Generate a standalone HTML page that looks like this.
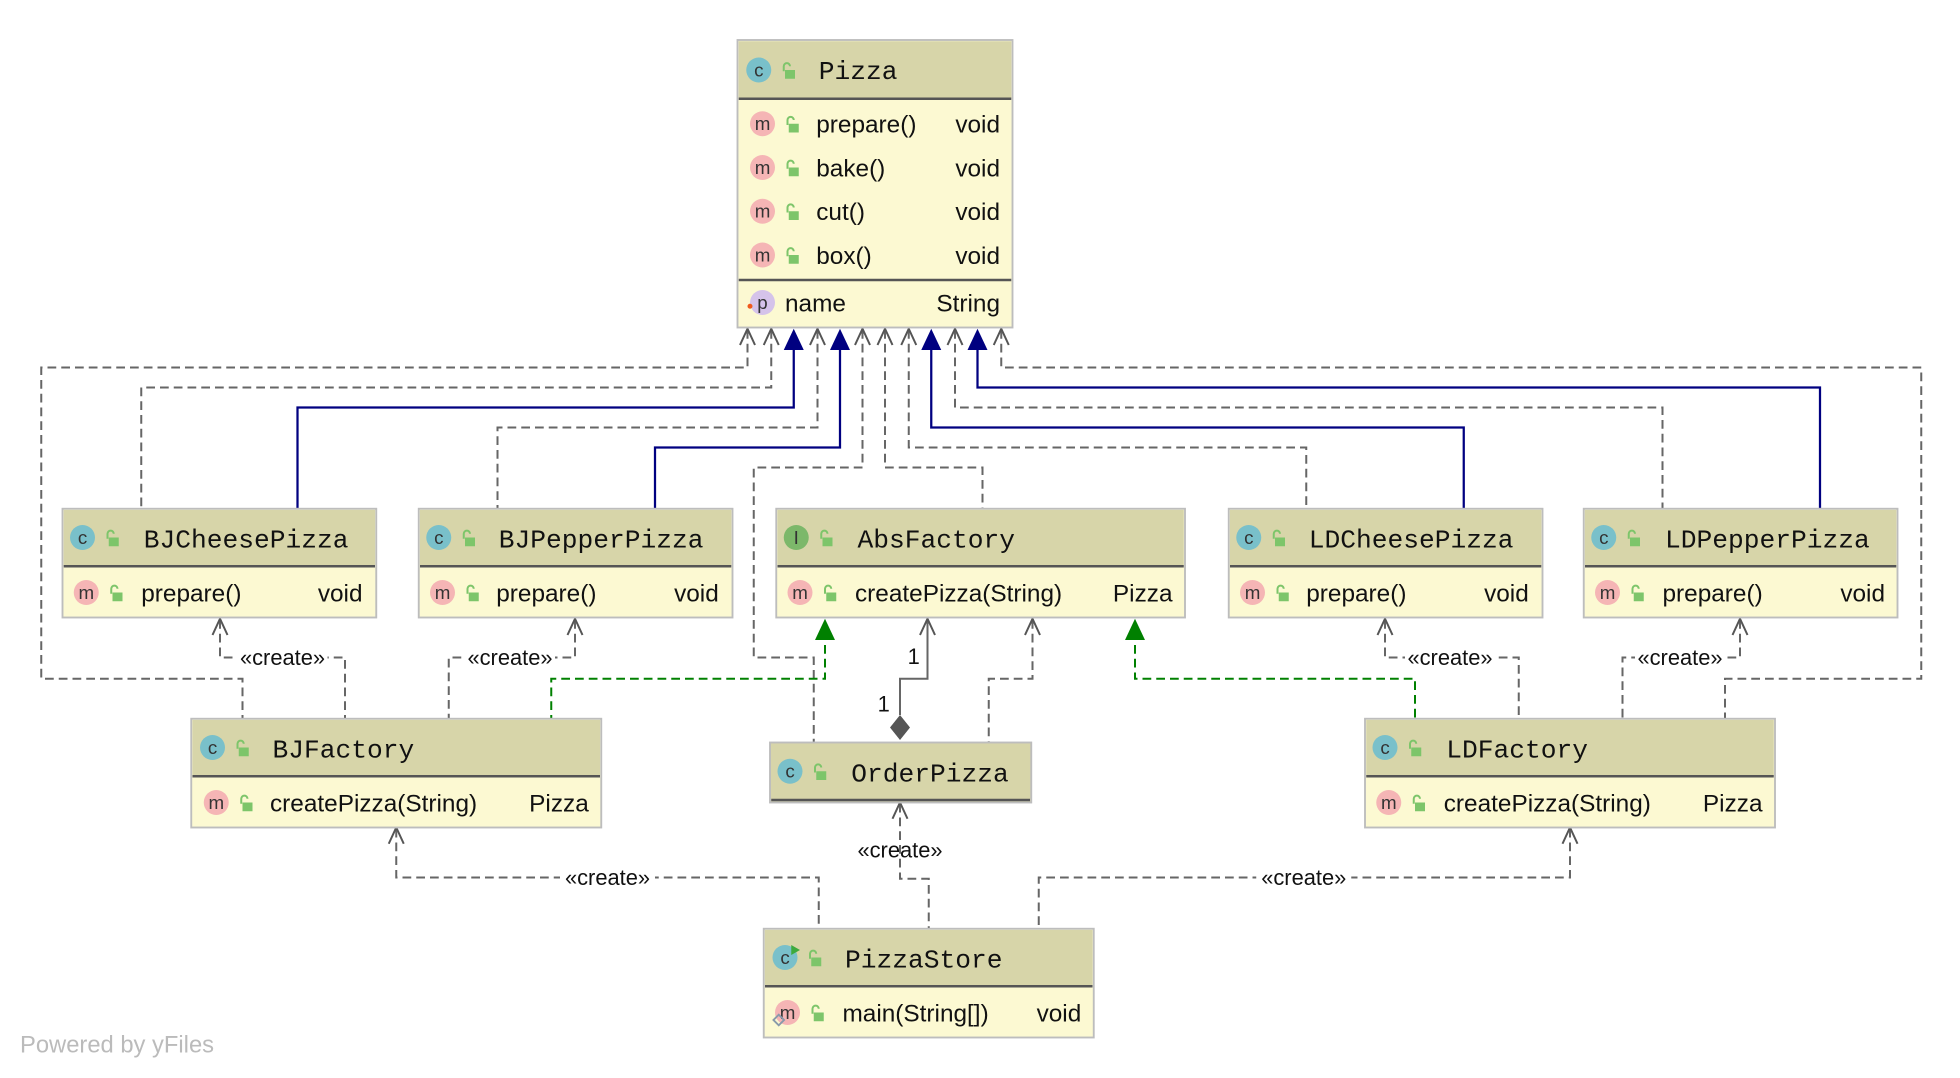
<!DOCTYPE html>
<html><head><meta charset="utf-8"><style>
html,body{margin:0;padding:0;background:#fff;}
svg{display:block;}
.h{font-family:"Liberation Mono",monospace;font-size:21px;fill:#111;}
.r{font-family:"Liberation Sans",sans-serif;font-size:19.5px;fill:#111;}
.t{font-family:"Liberation Sans",sans-serif;font-size:19.5px;fill:#111;text-anchor:end;}
.ic{font-family:"Liberation Sans",sans-serif;font-size:15px;fill:#333;text-anchor:middle;}
.lb{font-family:"Liberation Sans",sans-serif;font-size:17.5px;fill:#111;text-anchor:middle;}
.d{fill:none;stroke:#666;stroke-width:1.6;stroke-dasharray:7,4;}
.s{fill:none;stroke:#000080;stroke-width:1.8;}
.g{fill:none;stroke:#008000;stroke-width:1.6;stroke-dasharray:7,4;}
.oa{fill:none;stroke:#555;stroke-width:1.6;}
</style></head><body>
<svg width="1960" height="1078" viewBox="0 0 1568 862.4" preserveAspectRatio="none" xmlns="http://www.w3.org/2000/svg">
<defs>
<g id="lk"><rect x="-3" y="-2" width="8" height="7" fill="#7dc56a"/><path d="M-4 -1 V-5 a2.5 2.5 0 0 1 5 0" fill="none" stroke="#7dc56a" stroke-width="1.6"/></g>
</defs>

<path class="d" d="M598 264 V294 H33 V543 H194 V575"/>
<path class="d" d="M617 264 V310 H113 V407"/>
<path class="s" d="M635 270 V326 H238 V407"/>
<path class="d" d="M654 264 V342 H398 V407"/>
<path class="s" d="M672 270 V358 H524 V407"/>
<path class="d" d="M690 264 V374 H603 V526 H651 V594"/>
<path class="d" d="M708 264 V374 H786 V407"/>
<path class="d" d="M727 264 V358 H1045 V407"/>
<path class="s" d="M745 270 V342 H1171 V407"/>
<path class="d" d="M764 264 V326 H1330 V407"/>
<path class="s" d="M782 270 V310 H1456 V407"/>
<path class="d" d="M801 264 V294 H1537 V543 H1380 V575"/>
<g class="oa">
<path d="M592 276 L598 263 L604 276"/><path d="M611 276 L617 263 L623 276"/>
<path d="M648 276 L654 263 L660 276"/><path d="M684 276 L690 263 L696 276"/>
<path d="M702 276 L708 263 L714 276"/><path d="M721 276 L727 263 L733 276"/>
<path d="M758 276 L764 263 L770 276"/><path d="M795 276 L801 263 L807 276"/>
</g>
<g fill="#000080">
<polygon points="635,263 627,280 643,280"/><polygon points="672,263 664,280 680,280"/>
<polygon points="745,263 737,280 753,280"/><polygon points="782,263 774,280 790,280"/>
</g>

<path class="d" d="M176 496 V526 H276 V575"/>
<path class="d" d="M460 496 V526 H359 V575"/>
<path class="g" d="M660 505 V543 H441 V575"/>
<path fill="none" stroke="#666" stroke-width="1.6" d="M742 496 V543 H720 V572"/>
<polygon points="720,572 728,582 720,592 712,582" fill="#555"/>
<path class="d" d="M826 496 V543 H791 V594"/>
<path class="g" d="M908 505 V543 H1132 V575"/>
<path class="d" d="M1108 496 V526 H1215 V575"/>
<path class="d" d="M1392 496 V526 H1298 V575"/>
<path class="d" d="M317 663 V702 H655 V743"/>
<path class="d" d="M720 643 V703 H743 V743"/>
<path class="d" d="M1256 663 V702 H831 V743"/>
<g class="oa">
<path d="M170 508 L176 495 L182 508"/><path d="M454 508 L460 495 L466 508"/>
<path d="M736 508 L742 495 L748 508"/><path d="M820 508 L826 495 L832 508"/>
<path d="M1102 508 L1108 495 L1114 508"/><path d="M1386 508 L1392 495 L1398 508"/>
<path d="M311 675 L317 662 L323 675"/><path d="M714 655 L720 642 L726 655"/>
<path d="M1250 675 L1256 662 L1262 675"/>
</g>
<g fill="#008000">
<polygon points="660,495 652,512 668,512"/><polygon points="908,495 900,512 916,512"/>
</g>
<g>
<rect x="190" y="517" width="72" height="18" fill="#fff"/><text class="lb" x="226" y="532">«create»</text>
<rect x="372" y="517" width="72" height="18" fill="#fff"/><text class="lb" x="408" y="532">«create»</text>
<rect x="1124" y="517" width="72" height="18" fill="#fff"/><text class="lb" x="1160" y="532">«create»</text>
<rect x="1308" y="517" width="72" height="18" fill="#fff"/><text class="lb" x="1344" y="532">«create»</text>
<rect x="448" y="693" width="76" height="18" fill="#fff"/><text class="lb" x="486" y="708">«create»</text>
<text class="lb" x="720" y="686">«create»</text>
<rect x="1005" y="693" width="76" height="18" fill="#fff"/><text class="lb" x="1043" y="708">«create»</text>
<text class="lb" x="731" y="531">1</text>
<text class="lb" x="707" y="569">1</text>
</g>

<rect x="590" y="32" width="220" height="230" fill="#fcf9d2" stroke="#bdbdbd" stroke-width="1.5"/>
<rect x="591" y="33" width="218" height="46" fill="#d7d5a9"/>
<line x1="591" y1="79" x2="809" y2="79" stroke="#555" stroke-width="2"/>
<line x1="591" y1="224" x2="809" y2="224" stroke="#555" stroke-width="2"/>
<circle cx="607" cy="56" r="10" fill="#79c0ca"/><text class="ic" x="607" y="61">c</text>
<use href="#lk" x="631" y="58"/><text class="h" x="655" y="63">Pizza</text>
<g>
<circle cx="610" cy="99" r="10" fill="#f5b5b5"/><text class="ic" x="610" y="104">m</text><use href="#lk" x="634" y="101"/><text class="r" x="653" y="106">prepare()</text><text class="t" x="800" y="106">void</text>
<circle cx="610" cy="134" r="10" fill="#f5b5b5"/><text class="ic" x="610" y="139">m</text><use href="#lk" x="634" y="136"/><text class="r" x="653" y="141">bake()</text><text class="t" x="800" y="141">void</text>
<circle cx="610" cy="169" r="10" fill="#f5b5b5"/><text class="ic" x="610" y="174">m</text><use href="#lk" x="634" y="171"/><text class="r" x="653" y="176">cut()</text><text class="t" x="800" y="176">void</text>
<circle cx="610" cy="204" r="10" fill="#f5b5b5"/><text class="ic" x="610" y="209">m</text><use href="#lk" x="634" y="206"/><text class="r" x="653" y="211">box()</text><text class="t" x="800" y="211">void</text>
<circle cx="610" cy="242" r="10" fill="#d5c3ea"/><text class="ic" x="610" y="247">p</text><circle cx="600" cy="245" r="2" fill="#f05a1c"/><text class="r" x="628" y="249">name</text><text class="t" x="800" y="249">String</text>
</g>

<g>
<rect x="50" y="407" width="251" height="87" fill="#fcf9d2" stroke="#bdbdbd" stroke-width="1.5"/>
<rect x="51" y="408" width="249" height="45" fill="#d7d5a9"/><line x1="51" y1="453" x2="300" y2="453" stroke="#555" stroke-width="2"/>
<circle cx="66" cy="430" r="10" fill="#79c0ca"/><text class="ic" x="66" y="435">c</text><use href="#lk" x="90" y="432"/><text class="h" x="115" y="438">BJCheesePizza</text>
<circle cx="69" cy="474" r="10" fill="#f5b5b5"/><text class="ic" x="69" y="479">m</text><use href="#lk" x="93" y="476"/><text class="r" x="113" y="481">prepare()</text><text class="t" x="290" y="481">void</text>
</g>
<g>
<rect x="335" y="407" width="251" height="87" fill="#fcf9d2" stroke="#bdbdbd" stroke-width="1.5"/>
<rect x="336" y="408" width="249" height="45" fill="#d7d5a9"/><line x1="336" y1="453" x2="585" y2="453" stroke="#555" stroke-width="2"/>
<circle cx="351" cy="430" r="10" fill="#79c0ca"/><text class="ic" x="351" y="435">c</text><use href="#lk" x="375" y="432"/><text class="h" x="399" y="438">BJPepperPizza</text>
<circle cx="354" cy="474" r="10" fill="#f5b5b5"/><text class="ic" x="354" y="479">m</text><use href="#lk" x="378" y="476"/><text class="r" x="397" y="481">prepare()</text><text class="t" x="575" y="481">void</text>
</g>
<g>
<rect x="621" y="407" width="327" height="87" fill="#fcf9d2" stroke="#bdbdbd" stroke-width="1.5"/>
<rect x="622" y="408" width="325" height="45" fill="#d7d5a9"/><line x1="622" y1="453" x2="947" y2="453" stroke="#555" stroke-width="2"/>
<circle cx="637" cy="430" r="10" fill="#7cb86a"/><text class="ic" x="637" y="435">I</text><use href="#lk" x="661" y="432"/><text class="h" x="686" y="438">AbsFactory</text>
<circle cx="640" cy="474" r="10" fill="#f5b5b5"/><text class="ic" x="640" y="479">m</text><use href="#lk" x="664" y="476"/><text class="r" x="684" y="481">createPizza(String)</text><text class="t" x="938" y="481">Pizza</text>
</g>
<g>
<rect x="983" y="407" width="251" height="87" fill="#fcf9d2" stroke="#bdbdbd" stroke-width="1.5"/>
<rect x="984" y="408" width="249" height="45" fill="#d7d5a9"/><line x1="984" y1="453" x2="1233" y2="453" stroke="#555" stroke-width="2"/>
<circle cx="999" cy="430" r="10" fill="#79c0ca"/><text class="ic" x="999" y="435">c</text><use href="#lk" x="1023" y="432"/><text class="h" x="1047" y="438">LDCheesePizza</text>
<circle cx="1002" cy="474" r="10" fill="#f5b5b5"/><text class="ic" x="1002" y="479">m</text><use href="#lk" x="1026" y="476"/><text class="r" x="1045" y="481">prepare()</text><text class="t" x="1223" y="481">void</text>
</g>
<g>
<rect x="1267" y="407" width="251" height="87" fill="#fcf9d2" stroke="#bdbdbd" stroke-width="1.5"/>
<rect x="1268" y="408" width="249" height="45" fill="#d7d5a9"/><line x1="1268" y1="453" x2="1517" y2="453" stroke="#555" stroke-width="2"/>
<circle cx="1283" cy="430" r="10" fill="#79c0ca"/><text class="ic" x="1283" y="435">c</text><use href="#lk" x="1307" y="432"/><text class="h" x="1332" y="438">LDPepperPizza</text>
<circle cx="1286" cy="474" r="10" fill="#f5b5b5"/><text class="ic" x="1286" y="479">m</text><use href="#lk" x="1310" y="476"/><text class="r" x="1330" y="481">prepare()</text><text class="t" x="1508" y="481">void</text>
</g>
<g>
<rect x="153" y="575" width="328" height="87" fill="#fcf9d2" stroke="#bdbdbd" stroke-width="1.5"/>
<rect x="154" y="576" width="326" height="45" fill="#d7d5a9"/><line x1="154" y1="621" x2="480" y2="621" stroke="#555" stroke-width="2"/>
<circle cx="170" cy="598" r="10" fill="#79c0ca"/><text class="ic" x="170" y="603">c</text><use href="#lk" x="194" y="600"/><text class="h" x="218" y="606">BJFactory</text>
<circle cx="173" cy="642" r="10" fill="#f5b5b5"/><text class="ic" x="173" y="647">m</text><use href="#lk" x="197" y="644"/><text class="r" x="216" y="649">createPizza(String)</text><text class="t" x="471" y="649">Pizza</text>
</g>
<g>
<rect x="1092" y="575" width="328" height="87" fill="#fcf9d2" stroke="#bdbdbd" stroke-width="1.5"/>
<rect x="1093" y="576" width="326" height="45" fill="#d7d5a9"/><line x1="1093" y1="621" x2="1419" y2="621" stroke="#555" stroke-width="2"/>
<circle cx="1108" cy="598" r="10" fill="#79c0ca"/><text class="ic" x="1108" y="603">c</text><use href="#lk" x="1132" y="600"/><text class="h" x="1157" y="606">LDFactory</text>
<circle cx="1111" cy="642" r="10" fill="#f5b5b5"/><text class="ic" x="1111" y="647">m</text><use href="#lk" x="1135" y="644"/><text class="r" x="1155" y="649">createPizza(String)</text><text class="t" x="1410" y="649">Pizza</text>
</g>
<g>
<rect x="616" y="594" width="209" height="48" fill="#d7d5a9" stroke="#bdbdbd" stroke-width="1.5"/>
<line x1="617" y1="640" x2="824" y2="640" stroke="#555" stroke-width="2"/>
<circle cx="632" cy="617" r="10" fill="#79c0ca"/><text class="ic" x="632" y="622">c</text><use href="#lk" x="656" y="619"/><text class="h" x="681" y="625">OrderPizza</text>
</g>
<g>
<rect x="611" y="743" width="264" height="87" fill="#fcf9d2" stroke="#bdbdbd" stroke-width="1.5"/>
<rect x="612" y="744" width="262" height="45" fill="#d7d5a9"/><line x1="612" y1="789" x2="874" y2="789" stroke="#555" stroke-width="2"/>
<circle cx="628" cy="766" r="10" fill="#79c0ca"/><text class="ic" x="628" y="771">c</text><polygon points="633,756 640,760 633,764" fill="#3daa3d"/><use href="#lk" x="652" y="768"/><text class="h" x="676" y="774">PizzaStore</text>
<circle cx="630" cy="810" r="10" fill="#f5b5b5"/><text class="ic" x="630" y="815">m</text><rect x="620" y="813" width="6" height="6" fill="none" stroke="#8899aa" stroke-width="1.5" transform="rotate(45 623 816)"/><use href="#lk" x="654" y="812"/><text class="r" x="674" y="817">main(String[])</text><text class="t" x="865" y="817">void</text>
</g>

<text x="16" y="842" font-family="Liberation Sans, sans-serif" font-size="19" fill="#bbb">Powered by yFiles</text>
</svg>
</body></html>
